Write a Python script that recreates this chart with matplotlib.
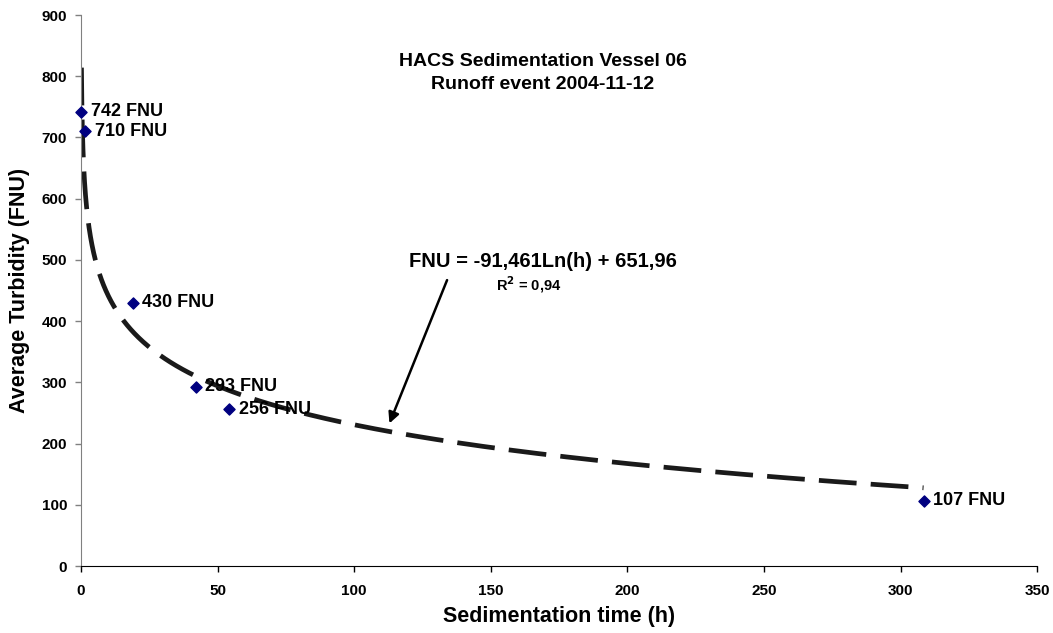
import numpy as np
import matplotlib
matplotlib.use("Agg")
import matplotlib.pyplot as plt

plt.rcParams['font.family'] = ['Liberation Sans', 'DejaVu Sans']

# Data
hours = [0, 1.5, 18.9, 42, 54.2, 308.4]
turbidity = [742, 710, 430, 293, 256, 107]
labels = ["742 FNU", "710 FNU", "430 FNU", "293 FNU", "256 FNU", "107 FNU"]
coef_a = -91.461
coef_b = 651.96
trend_start, trend_end = 0.17, 308.4
x_ticks = [0, 50, 100, 150, 200, 250, 300, 350]
y_ticks = [0, 100, 200, 300, 400, 500, 600, 700, 800, 900]

fig = plt.figure(figsize=(10.53, 6.33), dpi=100)
ax = fig.add_axes([0.0769, 0.1058, 0.9081, 0.8705])

# Trendline
th = np.geomspace(trend_start, trend_end, 600)
ax.plot(th, coef_a * np.log(th) + coef_b, color='#1a1a1a', lw=3.4,
        dashes=(8, 3), zorder=2)

# Points
ax.scatter(hours, turbidity, marker='D', s=32, color='#000080', zorder=3,
           clip_on=False)
for h, t, lab in zip(hours, turbidity, labels):
    ax.annotate(lab, (h, t), xytext=(7, 0), textcoords='offset points',
                va='center', ha='left', fontsize=13, fontweight='bold', zorder=4)

# Title
ax.text(169, 805, "HACS Sedimentation Vessel 06\nRunoff event 2004-11-12",
        ha='center', va='center', fontsize=14, fontweight='bold', linespacing=1.45)

# Equation
ax.text(169, 497, "FNU = -91,461Ln(h) + 651,96", ha='center', va='center',
        fontsize=14.5, fontweight='bold')
ax.text(164, 459, r"R$^\mathbf{2}$ = 0,94", ha='center', va='center',
        fontsize=10.5, fontweight='bold')
ax.annotate("", xy=(112.9, 233), xytext=(134, 467),
            arrowprops=dict(arrowstyle='-|>', color='black', lw=1.8,
                            mutation_scale=16, shrinkA=0, shrinkB=0))

ax.set_xlim(0, 350)
ax.set_ylim(0, 900)
ax.set_xticks(x_ticks)
ax.set_yticks(y_ticks)
ax.tick_params(axis='both', labelsize=11, length=4, width=1, direction='out')
for lab in ax.get_xticklabels() + ax.get_yticklabels():
    lab.set_fontweight('bold')
ax.tick_params(axis='x', pad=9)
ax.tick_params(axis='y', color='#808080', pad=6)

ax.spines['top'].set_visible(False)
ax.spines['right'].set_visible(False)
ax.spines['left'].set_color('#808080')
ax.spines['bottom'].set_color('black')

ax.set_xlabel("Sedimentation time (h)", fontsize=15.5, fontweight='bold', labelpad=6)
ax.set_ylabel("Average Turbidity (FNU)", fontsize=15.5, fontweight='bold', labelpad=8)

fig.savefig("out.png", dpi=100)
